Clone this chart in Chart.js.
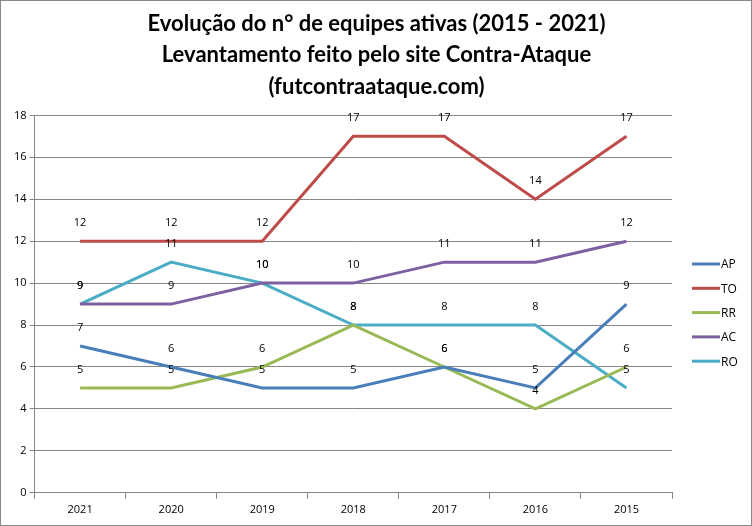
<!DOCTYPE html>
<html lang="pt">
<head>
  <meta charset="UTF-8" />
  <title>Evolução do nº de equipes ativas</title>
  <script src="https://cdn.jsdelivr.net/npm/chart.js"></script>
  <style>
    html, body { margin: 0; padding: 0; background: #fff; }
    #wrap { width: 752px; height: 526px; position: relative; }
  </style>
</head>
<body>
  <div id="wrap"><canvas id="myChart"></canvas></div>
  <script>
    const years = ['2021', '2020', '2019', '2018', '2017', '2016', '2015'];
    const apValues = [7, 6, 5, 5, 6, 5, 9];
    const toValues = [12, 12, 12, 17, 17, 14, 17];
    const rrValues = [5, 5, 6, 8, 6, 4, 6];
    const acValues = [9, 9, 10, 10, 11, 11, 12];
    const roValues = [9, 11, 10, 8, 8, 8, 5];
    const titleLines = [
      'Evolução do n° de equipes ativas (2015 - 2021)',
      'Levantamento feito pelo site Contra-Ataque',
      '(futcontraataque.com)'
    ];

    // white background + thin grey frame like the excel export
    const frame = {
      id: 'frame',
      beforeDraw(chart) {
        const ctx = chart.ctx;
        ctx.save();
        ctx.fillStyle = '#fff';
        ctx.fillRect(0, 0, chart.width, chart.height);
        ctx.strokeStyle = '#888';
        ctx.lineWidth = 1;
        ctx.strokeRect(0.5, 0.5, chart.width - 1, chart.height - 1);
        ctx.restore();
      }
    };

    // value labels above each point
    const valueLabels = {
      id: 'valueLabels',
      afterDatasetsDraw(chart) {
        const ctx = chart.ctx;
        ctx.save();
        ctx.font = '11px "Open Sans", sans-serif';
        ctx.fillStyle = '#000';
        ctx.textAlign = 'center';
        ctx.textBaseline = 'middle';
        chart.data.datasets.forEach((ds, i) => {
          chart.getDatasetMeta(i).data.forEach((pt, j) => {
            ctx.fillText(ds.data[j], pt.x, pt.y - 18);
          });
        });
        ctx.restore();
      }
    };

    // excel style legend: short line + name, stacked on the right
    const sideLegend = {
      id: 'sideLegend',
      afterDraw(chart) {
        const ctx = chart.ctx;
        const x = chart.chartArea.right + 20;
        let y = 264;
        ctx.save();
        ctx.font = '12px "Open Sans", sans-serif';
        ctx.textBaseline = 'middle';
        ctx.fillStyle = '#000';
        chart.data.datasets.forEach(ds => {
          ctx.strokeStyle = ds.borderColor;
          ctx.lineWidth = 3;
          ctx.beginPath();
          ctx.moveTo(x, y);
          ctx.lineTo(x + 28, y);
          ctx.stroke();
          ctx.fillText(ds.label, x + 29, y + 1);
          y += 24.3;
        });
        ctx.restore();
      }
    };

    const line = (label, data, color) => ({
      label: label,
      data: data,
      borderColor: color,
      backgroundColor: color,
      borderWidth: 3,
      pointRadius: 0,
      tension: 0,
      fill: false
    });

    new Chart(document.getElementById('myChart'), {
      type: 'line',
      data: {
        labels: years,
        datasets: [
          line('AP', apValues, '#4a7ebb'),
          line('TO', toValues, '#be4b48'),
          line('RR', rrValues, '#98b954'),
          line('AC', acValues, '#7d60a0'),
          line('RO', roValues, '#4bacc6')
        ]
      },
      options: {
        responsive: true,
        maintainAspectRatio: false,
        animation: false,
        layout: { padding: { left: 11, right: 10, top: 8, bottom: 6 } },
        plugins: {
          title: {
            display: true,
            text: titleLines,
            color: '#000',
            font: { family: 'Lato, sans-serif', size: 22, weight: 'bold', lineHeight: 1.43 },
            padding: { top: 0, bottom: 13 }
          },
          legend: { display: false },
          tooltip: { enabled: false }
        },
        scales: {
          x: {
            offset: true,
            grid: { display: true, drawOnChartArea: false, offset: true, tickLength: 6, color: '#868686' },
            border: { color: '#868686' },
            ticks: { color: '#000', font: { family: '"Open Sans", sans-serif', size: 11 }, padding: 4 }
          },
          y: {
            min: 0,
            max: 18,
            ticks: { stepSize: 2, color: '#000', font: { family: '"Open Sans", sans-serif', size: 11 }, padding: 3 },
            grid: { color: '#868686', tickLength: 5 },
            border: { color: '#868686' }
          },
          // empty right axis, only reserves room for the legend
          legendSpace: {
            type: 'linear',
            position: 'right',
            min: 0,
            max: 18,
            grid: { display: false },
            border: { display: false },
            ticks: { display: false },
            afterFit(scale) { scale.width = 70; }
          }
        }
      },
      plugins: [frame, valueLabels, sideLegend]
    });
  </script>
</body>
</html>
